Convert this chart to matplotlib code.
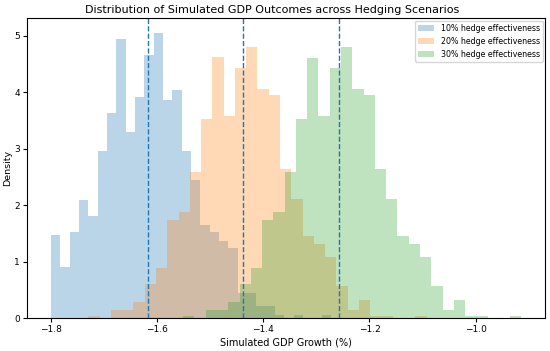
import numpy as np
import matplotlib
matplotlib.use("Agg")
import matplotlib.pyplot as plt

# Series labels
labels = ["10% hedge effectiveness", "20% hedge effectiveness", "30% hedge effectiveness"]

# Bin ranges (30 bins each, per-series min/max)
blue_range = (-1.800, -1.2726)
orange_range = (-1.7297, -1.0922)
green_range = (-1.5510, -0.9134)
n_bins = 30

# Counts per bin (N ~ 1000 samples)
blue_counts = [26, 16, 27, 37, 32, 52, 64, 87, 58, 69, 82, 89, 68, 71, 52,
               43, 29, 27, 24, 22, 8, 8, 4, 4, 1, 0, 1, 0, 0, 1]
orange_counts = [1, 0, 3, 3, 6, 13, 19, 37, 40, 55, 75, 98, 76, 94, 102,
                 86, 84, 56, 45, 31, 28, 23, 12, 3, 7, 1, 1, 0, 0, 1]
green_counts = [1, 0, 3, 3, 6, 13, 19, 37, 40, 55, 75, 98, 76, 94, 102,
                86, 84, 56, 45, 31, 28, 23, 12, 3, 7, 1, 1, 0, 0, 1]

# Scenario means (dashed lines)
means = [-1.6167, -1.4389, -1.2575]

colors = ["C0", "C1", "C2"]

fig = plt.figure(figsize=(5.5, 3.51), dpi=100)
ax = fig.add_axes([0.0485, 0.093, 0.943, 0.855])

for rng, counts, col, lab in zip([blue_range, orange_range, green_range],
                                 [blue_counts, orange_counts, green_counts],
                                 colors, labels):
    edges = np.linspace(rng[0], rng[1], n_bins + 1)
    centers = (edges[:-1] + edges[1:]) / 2
    ax.hist(centers, bins=edges, weights=counts, density=True,
            alpha=0.3, color=col, label=lab)

for m in means:
    ax.axvline(m, color="C0", linestyle="--", linewidth=1)

ax.set_xlim(-1.8458, -0.8685)
ax.set_title("Distribution of Simulated GDP Outcomes across Hedging Scenarios",
             fontsize=8, pad=4, x=0.474)
ax.set_xlabel("Simulated GDP Growth (%)", fontsize=7, labelpad=2)
ax.set_ylabel("Density", fontsize=6.8, labelpad=1)
ax.tick_params(labelsize=6.5, length=3, pad=2)
ax.legend(loc="upper right", fontsize=5.7, borderaxespad=0.3)

fig.savefig("out.png", dpi=100)
